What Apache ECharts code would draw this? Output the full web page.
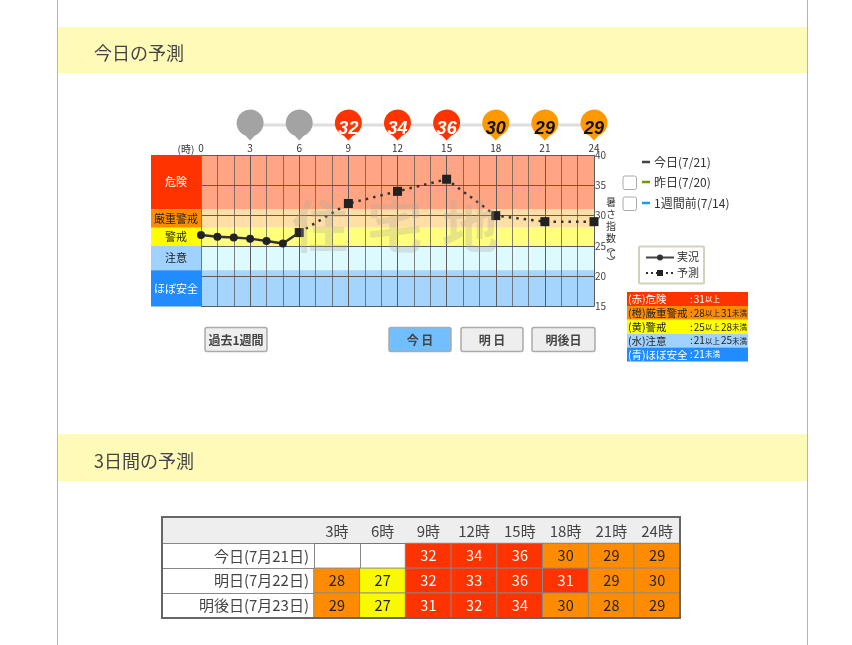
<!DOCTYPE html>
<html><head><meta charset="utf-8">
<style>html,body{margin:0;padding:0;background:#fff}#c{width:852px;height:645px;filter:blur(0.4px)}</style>
<script src="https://cdn.jsdelivr.net/npm/echarts@6/dist/echarts.min.js"></script>
</head><body><div id="c"></div>
<script>
const FONT='"Noto Sans CJK JP","Noto Sans",sans-serif';
const actualHours=[0,1,2,3,4,5,6];
const actualValues=[26.8,26.5,26.4,26.2,25.8,25.4,27.2];
const forecastHours=[6,9,12,15,18,21,24];
const forecastValues=[27.2,32,34,36,30,29,29];
const pinHours=[3,6,9,12,15,18,21,24];
const pinValues=[null,null,32,34,36,30,29,29];
const zoneNames=['危険','厳重警戒','警戒','注意','ほぼ安全'];
const zoneEdges=[40,31,28,25,21,15];
const zoneStrong=['#ff3300','#ff8c00','#ffff00','#a0d2ff','#218cff'];
const zonePale=['#ffa584','#ffdfa5','#ffff7b','#dcfaff','#a5d4fc'];
const zoneText=['#fff','#222','#222','#222','#fff'];
const tableHours=['3時','6時','9時','12時','15時','18時','21時','24時'];
const tableDays=['今日(7月21日)','明日(7月22日)','明後日(7月23日)'];
const tableToday=[null,null,32,34,36,30,29,29];
const tableTomorrow=[28,27,32,33,36,31,29,30];
const tableAfter=[29,27,31,32,34,30,28,29];
const legendDays=['今日(7/21)','昨日(7/20)','1週間前(7/14)'];
const legendDayColors=['#444','#6a9a00','#1e9bf0'];
const zoneKeyNames=['(赤)危険','(橙)厳重警戒','(黄)警戒','(水)注意','(青)ほぼ安全'];
const zoneKeyRanges=[':{a|31}{b|以上}',':{a|28}{b|以上}{a|31}{b|未満}',':{a|25}{b|以上}{a|28}{b|未満}',':{a|21}{b|以上}{a|25}{b|未満}',':{a|21}{b|未満}'];
const buttons=[['過去1週間',205,62,false],['今 日',389,62,true],['明 日',461,62,false],['明後日',532,63,false]];
const watermark=['住','宅','地'];

const PIN='path://M13.5 0A13.5 13.5 0 0 1 18 26.2L13.5 31L9 26.2A13.5 13.5 0 0 1 13.5 0Z';
const pinColor=v=>v==null?'#a3a3a3':v>=31?'#ff3300':'#ff9900';
const bands=(colors,labels)=>zoneNames.map((n,i)=>[
  {yAxis:zoneEdges[i],itemStyle:{color:colors[i],opacity:1},
   label:labels?{show:true,position:'inside',formatter:n,color:zoneText[i],fontSize:11,fontFamily:FONT}:{show:false}},
  {yAxis:zoneEdges[i+1]}]);
const tableRows=[tableToday,tableTomorrow,tableAfter];
const tableData=[];
tableRows.forEach((r,j)=>r.forEach((v,i)=>{ if(v!=null) tableData.push({value:[i,j,v],label:{color:v>=31?'#fff':'#222'}}); }));

const g=[];
[57.5,807.5].forEach(x=>g.push({type:'line',shape:{x1:x,y1:0,x2:x,y2:645},style:{stroke:'#b5b5b5',lineWidth:1}}));
[[27,46,'今日の予測',53],[434,47,'3日間の予測',461]].forEach(h=>{
  g.push({type:'rect',shape:{x:57,y:h[0],width:750,height:h[1]},style:{fill:'#fffab8'},z:-1});
  g.push({type:'text',x:94,y:h[3],style:{text:h[2],fill:'#444',font:'18px '+FONT,verticalAlign:'middle'}});
});
watermark.forEach((t,i)=>g.push({type:'text',x:292+i*75,y:226,z:20,style:{text:t,fill:'rgba(175,170,150,0.3)',font:'bold 56px '+FONT,verticalAlign:'middle'}}));
legendDays.forEach((t,i)=>{
  const y=[162,182,203][i];
  g.push({type:'line',shape:{x1:642,y1:y,x2:650,y2:y},style:{stroke:legendDayColors[i],lineWidth:2.5}});
  g.push({type:'text',x:654,y:y,style:{text:t,fill:'#333',font:'12px '+FONT,verticalAlign:'middle'}});
  if(i) g.push({type:'rect',shape:{x:623,y:y-6,width:13.5,height:13.5,r:2},style:{fill:'#fff',stroke:'#aaa',lineWidth:1}});
});
g.push({type:'rect',shape:{x:639,y:246.5,width:65,height:37,r:1},style:{fill:'#fff',stroke:'#d2d2ba',lineWidth:2}});
g.push({type:'line',shape:{x1:646,y1:257.5,x2:674,y2:257.5},style:{stroke:'#444',lineWidth:2}});
g.push({type:'circle',shape:{cx:660,cy:257.5,r:3},style:{fill:'#333'}});
g.push({type:'line',shape:{x1:646,y1:273,x2:674,y2:273},style:{stroke:'#333',lineWidth:2,lineDash:[2,3]}});
g.push({type:'rect',shape:{x:657,y:270,width:6,height:6},style:{fill:'#222'}});
g.push({type:'text',x:677,y:257,style:{text:'実況',fill:'#333',font:'11px '+FONT,verticalAlign:'middle'}});
g.push({type:'text',x:677,y:273,style:{text:'予測',fill:'#333',font:'11px '+FONT,verticalAlign:'middle'}});
zoneKeyNames.forEach((n,i)=>{
  const y=292+i*13.9, c=zoneText[i];
  g.push({type:'rect',shape:{x:627,y:y,width:121,height:13.9},style:{fill:zoneStrong[i]}});
  g.push({type:'text',x:628,y:y+7,style:{text:n,fill:c,font:'10.5px '+FONT,verticalAlign:'middle'}});
  g.push({type:'text',x:690,y:y+7,style:{text:zoneKeyRanges[i],fill:c,font:'10px '+FONT,verticalAlign:'middle',
    rich:{a:{fontSize:10,fill:c,fontFamily:FONT,padding:[0,0,0,1]},b:{fontSize:7.5,fill:c,fontFamily:FONT}}}});
});
buttons.forEach(b=>{
  g.push({type:'rect',shape:{x:b[1],y:327.5,width:b[2],height:24,r:2},style:{fill:b[3]?'#72bfff':'#eeeeee',stroke:'#aaa',lineWidth:1.5}});
  g.push({type:'text',x:b[1]+b[2]/2,y:340,style:{text:b[0],fill:'#444',font:'bold 12px '+FONT,align:'center',verticalAlign:'middle'}});
});
g.push({type:'rect',shape:{x:162,y:517,width:518,height:26.5},style:{fill:'#eeeeee',stroke:'#777',lineWidth:1},z:-1});
g.push({type:'rect',shape:{x:162,y:517,width:518,height:101},style:{fill:'none',stroke:'#666',lineWidth:2},z:30});
g.push({type:'text',x:611,y:220,style:{text:'暑\nさ\n指\n数',fill:'#333',font:'10px '+FONT,lineHeight:12,align:'center',verticalAlign:'middle'}});
g.push({type:'text',x:611,y:254,style:{text:'︵\n℃\n︶',fill:'#333',font:'9px '+FONT,lineHeight:7.5,align:'center',verticalAlign:'middle'}});

const option={
  animation:false,
  backgroundColor:'#fff',
  textStyle:{fontFamily:FONT},
  graphic:{elements:g},
  grid:[
    {left:201,top:155,width:393,height:151.5},
    {left:151,top:155,width:50,height:151.5},
    {left:201,top:105,width:393,height:40},
    {left:314,top:543.5,width:366,height:74.5}
  ],
  xAxis:[
    {gridIndex:0,type:'value',min:0,max:24,interval:3,position:'top',z:1,
     name:'(時)',nameLocation:'start',nameGap:6,nameTextStyle:{fontSize:10,color:'#333',align:'right',verticalAlign:'bottom',padding:[0,0,1,0]},
     axisLine:{show:false},axisTick:{show:false},axisLabel:{fontSize:10,color:'#333',margin:2,hideOverlap:false,showMinLabel:true,showMaxLabel:true},
     splitLine:{show:true,lineStyle:{color:'#5c5c5c',width:1}},
     minorTick:{show:false,splitNumber:3},minorSplitLine:{show:true,lineStyle:{color:'rgba(80,80,80,0.7)',width:1}}},
    {gridIndex:1,type:'value',min:0,max:1,show:false},
    {gridIndex:2,type:'value',min:0,max:24,show:false},
    {gridIndex:3,type:'category',data:tableHours,position:'top',
     axisLine:{show:true,lineStyle:{color:'#777',width:1}},axisTick:{show:false},
     axisLabel:{fontSize:15,color:'#444',margin:5,interval:0},splitLine:{show:true,interval:0,lineStyle:{color:'#888'}}}
  ],
  yAxis:[
    {gridIndex:0,type:'value',min:15,max:40,interval:5,position:'right',z:1,
     axisLine:{show:true,lineStyle:{color:'#777'}},axisTick:{show:false},axisLabel:{fontSize:10,color:'#444',margin:1},
     splitLine:{show:true,lineStyle:{color:'#5c5c5c',width:1}}},
    {gridIndex:1,type:'value',min:15,max:40,show:false},
    {gridIndex:2,type:'value',min:0,max:1,show:false},
    {gridIndex:3,type:'category',data:tableDays,inverse:true,
     axisLine:{show:false},axisTick:{show:true,length:152,lineStyle:{color:'#888'}},
     axisLabel:{fontSize:15,color:'#444',margin:5,interval:0},splitLine:{show:true,interval:0,lineStyle:{color:'#888'}}}
  ],
  visualMap:{show:false,type:'piecewise',seriesIndex:6,dimension:2,
    pieces:[{gte:31,color:'#ff3300'},{gte:28,lt:31,color:'#ff8c00'},{gte:25,lt:28,color:'#f9f900'}]},
  series:[
    {type:'line',xAxisIndex:0,yAxisIndex:0,data:[],z:0,silent:true,markArea:{silent:true,z:0,data:bands(zonePale,false)}},
    {type:'line',xAxisIndex:1,yAxisIndex:1,data:[],z:0,silent:true,markArea:{silent:true,z:0,data:bands(zoneStrong,true)}},
    {type:'line',name:'予測',xAxisIndex:0,yAxisIndex:0,z:3,data:forecastHours.map((h,i)=>[h,forecastValues[i]]),
     lineStyle:{color:'#333',width:2.5,type:[2.5,5]},itemStyle:{color:'#222'},symbol:'rect',symbolSize:9,showAllSymbol:true,clip:false},
    {type:'line',name:'実況',xAxisIndex:0,yAxisIndex:0,z:4,data:actualHours.map((h,i)=>[h,actualValues[i]]),
     lineStyle:{color:'#333',width:2.5},itemStyle:{color:'#222'},symbol:'circle',symbolSize:8,showAllSymbol:true,clip:false},
    {type:'line',xAxisIndex:2,yAxisIndex:2,z:1,symbol:'none',data:pinHours.map(h=>[h,0.5]),lineStyle:{color:'#dedede',width:3}},
    {type:'scatter',xAxisIndex:2,yAxisIndex:2,z:2,symbol:PIN,symbolSize:[27,31],symbolOffset:[0,0],clip:false,
     data:pinHours.map((h,i)=>({value:[h,0.5],itemStyle:{color:pinColor(pinValues[i]),opacity:1},
       label:{show:pinValues[i]!=null,formatter:String(pinValues[i]),position:'inside',offset:[0,4],
              color:pinValues[i]>=31?'#fff':'#111',fontSize:18,fontWeight:'bold',fontStyle:'italic',fontFamily:'"Liberation Sans",sans-serif'}}))},
    {type:'heatmap',xAxisIndex:3,yAxisIndex:3,data:tableData,
     itemStyle:{borderColor:'#888',borderWidth:1},
     label:{show:true,fontSize:14.5,fontFamily:FONT}}
  ]
};
echarts.init(document.getElementById('c'),null,{renderer:'canvas'}).setOption(option);
</script></body></html>
